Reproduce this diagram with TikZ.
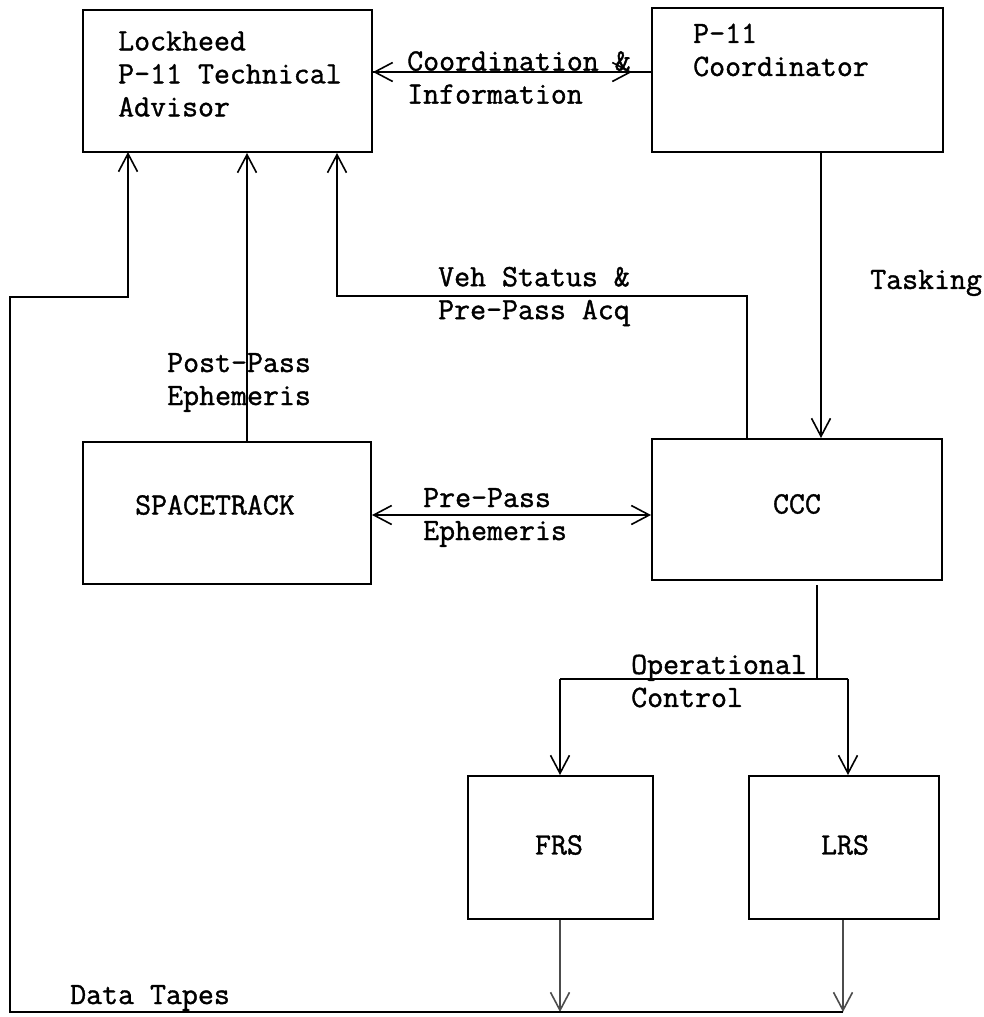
\documentclass[tikz,border=0pt]{standalone}
\usepackage{fontspec}
\newfontfamily\typewriter[FakeBold=1.2]{Latin Modern Mono}
\usetikzlibrary{arrows.meta}
\begin{document}
\begin{tikzpicture}[x=1pt,y=-1pt,
  box/.style={draw, line width=2pt, inner sep=0pt, minimum width=#1},
  conn/.style={line width=1.8pt},
  arr/.style={conn, -{Straight Barb[length=18pt,width=19pt,line width=1.6pt]}},
  darr/.style={conn, {Straight Barb[length=18pt,width=19pt,line width=1.6pt]}-{Straight Barb[length=18pt,width=19pt,line width=1.6pt]}},
  larr/.style={conn, {Straight Barb[length=18pt,width=19pt,line width=1.6pt]}-},
  txt/.style={inner sep=0pt, font=\fontsize{31}{33}\selectfont\typewriter, align=left},
  faint/.style={draw=black!70}
]
\useasboundingbox (0,0) rectangle (984,1017);

% boxes
\node[box=289pt, minimum height=142pt] (lock)  at (227.5,81) {};
\node[box=291pt, minimum height=144pt] (coord) at (797.5,80) {};
\node[box=288pt, minimum height=142pt] (space) at (227,513) {};
\node[box=290pt, minimum height=141pt] (ccc)   at (797,509.5) {};
\node[box=185pt, minimum height=143pt] (frs)   at (560,847.5) {};
\node[box=190pt, minimum height=143pt] (lrs)   at (844,847.5) {};

% texts in boxes
\node[txt, anchor=west] (tlock) at (118,74) {Lockheed\\P-11 Technical\\Advisor};
\node[txt, anchor=west] (tcoord) at (693,50) {P-11\\Coordinator};
\node[txt] (tspace) at (215,505) {SPACETRACK};
\node[txt] (tccc) at (797,504) {CCC};
\node[txt] (tfrs) at (559,845) {FRS};
\node[txt] (tlrs) at (845,845) {LRS};

% connector labels
\node[txt, anchor=west] (lcoord) at (407,77.5) {Coordination \&\\Information};
\node[txt, anchor=west] (lveh) at (438,296.5) {Veh Status \&\\Pre-Pass Acq};
\node[txt, anchor=west] (ltask) at (870,283) {Tasking};
\node[txt, anchor=west] (lpost) at (167,382.5) {Post-Pass\\Ephemeris};
\node[txt, anchor=west] (lpre) at (423,517.5) {Pre-Pass\\Ephemeris};
\node[txt, anchor=west] (lop) at (631,681) {Operational\\Control};
\node[txt, anchor=west] (ldata) at (70,998) {Data Tapes};

% helper coordinates
\coordinate (vsy) at (0,296);
\coordinate (ocy) at (0,679);
\coordinate (bl) at (10,1012);
\coordinate (tl) at (10,297);
\coordinate (dtin) at (128,152);

% Coordination & Information
\draw[larr] ([yshift=9pt]lock.east) -- ([yshift=9pt]lock.east -| coord.west);
\draw[arr] ([yshift=9pt]lock.east) -- ([yshift=9pt,xshift=-19pt]lock.east -| coord.west);

% Tasking
\draw[arr] ([xshift=23.5pt]coord.south) -- ([xshift=23.5pt]coord.south |- ccc.north);

% Veh Status & Pre-Pass Acq
\draw[arr] ([xshift=-50pt]ccc.north) -- ([xshift=-50pt]ccc.north |- vsy)
  -- ([xshift=109.5pt]lock.south |- vsy) -- ([xshift=109.5pt]lock.south);

% Post-Pass Ephemeris
\draw[arr] ([xshift=20pt]space.north) -- ([xshift=20pt]space.north |- lock.south);

% Pre-Pass Ephemeris
\draw[darr] ([yshift=-2pt]space.east) -- ([yshift=-2pt]space.east -| ccc.west);

% Operational Control
\draw[conn] ([xshift=20pt,yshift=-4pt]ccc.south) -- ([xshift=20pt]ccc.south |- ocy);
\draw[conn] (frs.north |- ocy) -- ([xshift=4pt]lrs.north |- ocy);
\draw[arr] (frs.north |- ocy) -- (frs.north);
\draw[arr] ([xshift=4pt]lrs.north |- ocy) -- ([xshift=4pt]lrs.north);

% Data Tapes
\draw[arr, faint] (frs.south) -- (frs.south |- bl);
\draw[arr, faint] ([xshift=-1pt]lrs.south) -- ([xshift=-1pt]lrs.south |- bl);
\draw[arr] ([xshift=-1pt]lrs.south |- bl) -- (bl) -- (tl) -- (tl -| dtin) -- (dtin);

\end{tikzpicture}
\end{document}
